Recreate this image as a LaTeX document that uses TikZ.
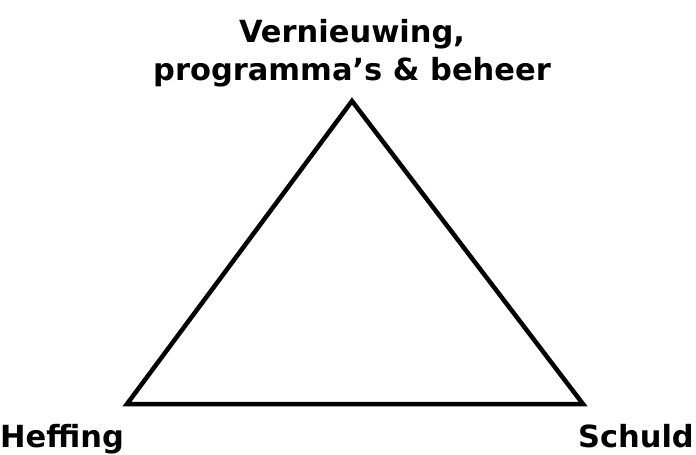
\documentclass[tikz,border=0pt]{standalone}
\usepackage{fontspec}
\setmainfont{DejaVu Sans}
\begin{document}
\begin{tikzpicture}[x=1pt,y=-1pt,
  lbl/.style={font=\bfseries\fontsize{30.5}{38}\selectfont, inner sep=0pt, align=center},
  edge/.style={line width=4.5pt, line join=miter}]
\useasboundingbox (0,0) rectangle (696,455);
\coordinate (top) at (352,101);
\coordinate (bl) at (127,404);
\coordinate (br) at (583,404);
\draw[edge] (top) -- (bl) -- (br) -- cycle;
\node[lbl, anchor=base] (t) at (352,80) {Vernieuwing,\\programma’s \& beheer};
\node[lbl, anchor=base west] (h) at (0,447) {Heffing};
\node[lbl, anchor=base east] (s) at (694,447) {Schuld};
\end{tikzpicture}
\end{document}
